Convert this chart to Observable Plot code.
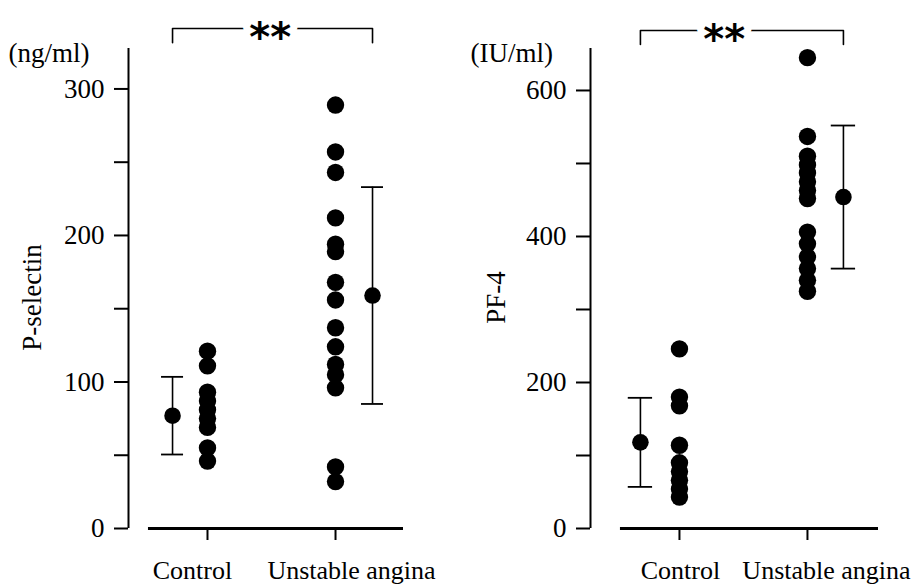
<!DOCTYPE html>
<html><head><meta charset="utf-8">
<script src="https://cdn.jsdelivr.net/npm/d3@7"></script>
<script src="https://cdn.jsdelivr.net/npm/@observablehq/plot@0.6"></script>
<style>
body{margin:0;background:#fff}
#wrap{display:flex;width:924px;height:588px;overflow:hidden}
#wrap svg{overflow:visible}
</style>
</head><body><div id="wrap"></div>
<script>
// ---- data ----
const groups = ["Control", "Unstable angina"];

const pselControl  = [121, 111, 93, 87, 81, 75, 69, 55, 46];
const pselUnstable = [289, 257, 243, 212, 194, 189, 168, 156, 137, 124, 112, 105, 96, 42, 32];
const pselMean = [77, 159];
const pselSD   = [26.5, 74];
const pselTicks  = [0, 50, 100, 150, 200, 250, 300];
const pselLabels = [0, 100, 200, 300];

const pf4Control  = [246, 180, 168, 114, 90, 78, 66, 54, 43];
const pf4Unstable = [645, 537, 510, 498, 487, 475, 463, 452, 406, 390, 372, 356, 340, 325];
const pf4Mean = [118, 454];
const pf4SD   = [61, 98];
const pf4Ticks  = [0, 100, 200, 300, 400, 500, 600];
const pf4Labels = [0, 200, 400, 600];

// ---- layout ----
function panel(o) {
  const pts = [
    ...o.control.map(v => ({g: 0, v})),
    ...o.unstable.map(v => ({g: 1, v}))
  ];
  const stats = o.mean.map((m, i) => ({x: i + o.meanOffset[i], m, lo: m - o.sd[i], hi: m + o.sd[i]}));
  const bx = [stats[0].x, stats[1].x];
  const bracket = [
    {x: bx[0], y: o.bracketLeg}, {x: bx[0], y: o.bracketY},
    {x: bx[1], y: o.bracketY}, {x: bx[1], y: o.bracketLeg}
  ];
  const cap = o.cap;
  return Plot.plot({
    width: 462, height: 588,
    marginTop: 48, marginBottom: 60, marginLeft: 128, marginRight: o.marginRight,
    style: {fontFamily: "'Liberation Serif', 'Times New Roman', serif", fontSize: "27px", color: "black", background: "white", overflow: "visible"},
    x: {domain: o.xDomain},
    y: {domain: [0, o.yTop]},
    marks: [
      Plot.ruleX([o.xDomain[0]], {strokeWidth: 2}),
      Plot.ruleY([0], {x1: o.xLineStart, x2: o.xDomain[1], strokeWidth: 3}),
      Plot.axisY({ticks: o.ticks, tickFormat: d => o.labels.includes(d) ? String(d) : "", tickSize: 14, tickPadding: 10, strokeWidth: 2, label: null}),
      Plot.axisX({ticks: [0, 1], tickFormat: () => "", tickSize: 12, strokeWidth: 2, label: null}),
      Plot.text([0], {x: d => d, text: d => groups[d], frameAnchor: "bottom", dy: 42, dx: o.labelDx[0], lineAnchor: "middle", fontSize: 26}),
      Plot.text([1], {x: d => d, text: d => groups[d], frameAnchor: "bottom", dy: 42, dx: o.labelDx[1], lineAnchor: "middle", fontSize: 26}),
      Plot.dot(pts, {x: "g", y: "v", r: 8.7, fill: "black", stroke: null}),
      Plot.ruleX(stats, {x: "x", y1: "lo", y2: "hi", strokeWidth: 1.6}),
      Plot.ruleY(stats, {y: "hi", x1: d => d.x - cap, x2: d => d.x + cap, strokeWidth: 1.8}),
      Plot.ruleY(stats, {y: "lo", x1: d => d.x - cap, x2: d => d.x + cap, strokeWidth: 1.8}),
      Plot.dot(stats, {x: "x", y: "m", r: 8.3, fill: "black", stroke: null}),
      Plot.line(bracket, {x: "x", y: "y", strokeWidth: 1.6}),
      Plot.text([{x: o.starX, y: o.bracketY}], {x: "x", y: "y", text: () => "**", fontFamily: "'DejaVu Sans', sans-serif", fontWeight: "bold", fontSize: 40, fill: "black", stroke: "white", strokeWidth: 14, dy: 10}),
      Plot.text([o.unit], {frameAnchor: "top-left", dx: -120, dy: 5, textAnchor: "start", lineAnchor: "middle"}),
      Plot.text([o.yLabel], {frameAnchor: "left", rotate: -90, dx: o.yLabelDx, dy: 9, textAnchor: "middle", lineAnchor: "middle"})
    ]
  });
}

const left = panel({
  control: pselControl, unstable: pselUnstable, mean: pselMean, sd: pselSD,
  ticks: pselTicks, labels: pselLabels, yTop: 327.6,
  xDomain: [-0.617, 1.531], xLineStart: -0.461, marginRight: 59,
  meanOffset: [-0.273, 0.289], cap: 0.086,
  bracketY: 341.3, bracketLeg: 331.6, starX: 0.49,
  labelDx: [-15, 16],
  unit: "(ng/ml)", yLabel: "P-selectin", yLabelDx: -96
});
const right = panel({
  control: pf4Control, unstable: pf4Unstable, mean: pf4Mean, sd: pf4SD,
  ticks: pf4Ticks, labels: pf4Labels, yTop: 657.5,
  xDomain: [-0.695, 1.555], xLineStart: -0.461, marginRight: 46,
  meanOffset: [-0.305, 0.281], cap: 0.095,
  bracketY: 682.2, bracketLeg: 663, starX: 0.35,
  labelDx: [1, 19],
  unit: "(IU/ml)", yLabel: "PF-4", yLabelDx: -94
});
document.getElementById("wrap").append(left, right);
</script>
</body></html>
